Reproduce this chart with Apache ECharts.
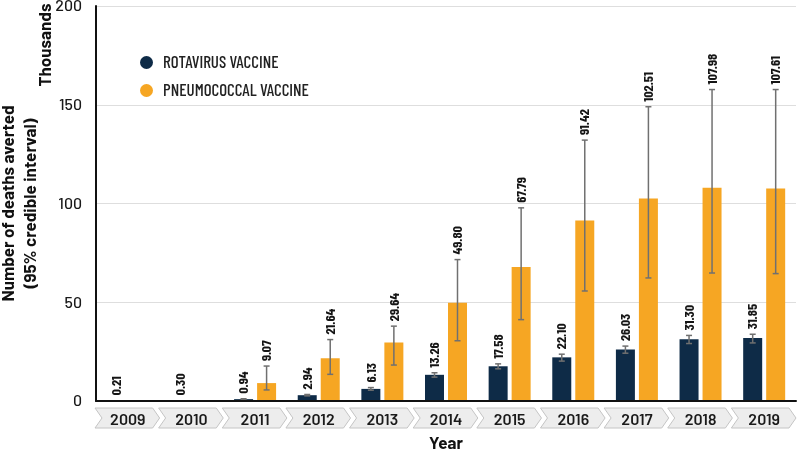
<!DOCTYPE html>
<html>
<head>
<meta charset="utf-8">
<script src="https://cdn.jsdelivr.net/npm/echarts@6/dist/echarts.min.js"></script>
<style>
  html, body { margin: 0; padding: 0; background: #fff; }
  #chart { width: 800px; height: 451px; }
</style>
</head>
<body>
<div id="chart"></div>
<script>
// years on the x axis
var years = ['2009', '2010', '2011', '2012', '2013', '2014', '2015', '2016', '2017', '2018', '2019'];
// deaths averted, thousands
var rotaVals = [0.21, 0.30, 0.94, 2.94, 6.13, 13.26, 17.58, 22.10, 26.03, 31.30, 31.85];
var rotaLow = [null, null, 0.75, 2.6, 5.5, 12.1, 16.3, 20.2, 24.2, 29.1, 29.4];
var rotaHigh = [null, null, 1.15, 3.3, 6.8, 14.3, 18.8, 23.7, 27.8, 33.2, 33.8];
var pneuVals = [null, null, 9.07, 21.64, 29.64, 49.80, 67.79, 91.42, 102.51, 107.98, 107.61];
var pneuLow = [null, null, 5.6, 13.5, 18.2, 30.5, 41.2, 55.7, 62.3, 64.8, 64.5];
var pneuHigh = [null, null, 17.7, 31.1, 37.9, 71.6, 97.8, 132.1, 149.0, 157.7, 157.7];
var yTicks = [0, 50, 100, 150, 200];

var FONT = "Barlow, sans-serif";
var FONT_C = "'Barlow Condensed', Barlow, sans-serif";
var NAVY = '#0e2b47';
var ORANGE = '#f6a623';
var BAR_W = 19;
var GAP = 4;

function errData(vals, lo, hi) {
    var out = [];
    for (var i = 0; i < vals.length; i++) {
        if (vals[i] == null) continue;
        out.push([i, lo[i], hi[i], vals[i]]);
    }
    return out;
}

// error bar + rotated value label, shifted to sit on its bar
function errRender(offset) {
    return function (params, api) {
        var i = api.value(0);
        var lo = api.value(1), hi = api.value(2), v = api.value(3);
        var top = api.coord([i, isNaN(hi) ? v : hi]);
        var x = top[0] + offset;
        var children = [];
        if (!isNaN(lo) && !isNaN(hi)) {
            var bot = api.coord([i, lo]);
            var st = { stroke: '#707070', lineWidth: 1.5 };
            children.push({ type: 'line', shape: { x1: x, y1: top[1], x2: x, y2: bot[1] }, style: st });
            children.push({ type: 'line', shape: { x1: x - 3, y1: top[1], x2: x + 3, y2: top[1] }, style: st });
            children.push({ type: 'line', shape: { x1: x - 3, y1: bot[1], x2: x + 3, y2: bot[1] }, style: st });
        }
        children.push({
            type: 'text',
            x: x, y: top[1] - 5,
            rotation: Math.PI / 2,
            style: {
                text: v.toFixed(2),
                fontFamily: FONT_C, fontSize: 14, fontWeight: 'bold',
                fill: '#151515', align: 'left', verticalAlign: 'middle'
            }
        });
        return { type: 'group', children: children };
    };
}

// chevron boxes under each year label
function chevronRender(params, api) {
    var i = api.value(0);
    var c = api.coord([i, 0]);
    var w = api.size([1, 0])[0];
    var l = c[0] - w / 2 - 1, r = c[0] + w / 2;
    var t = c[1] + 7, b = c[1] + 27, m = (t + b) / 2;
    return {
        type: 'polygon',
        shape: { points: [[l, t], [r - 7, t], [r, m], [r - 7, b], [l, b], [l + 7, m]] },
        style: { fill: '#ededed', stroke: '#c4c4c4', lineWidth: 1 }
    };
}

var chart = echarts.init(document.getElementById('chart'));
chart.setOption({
    animation: false,
    textStyle: { fontFamily: FONT },
    grid: { left: 96, right: 4, top: 6, bottom: 50, outerBoundsMode: 'none', containLabel: false },
    legend: {
        data: ['ROTAVIRUS VACCINE', 'PNEUMOCOCCAL VACCINE'],
        orient: 'vertical',
        left: 140, top: 54,
        padding: 0,
        icon: 'circle',
        itemWidth: 13, itemHeight: 13,
        itemGap: 11,
        textStyle: { fontFamily: FONT_C, fontSize: 17, fontWeight: 500, color: '#222', padding: [0, 0, 0, 5] }
    },
    xAxis: {
        type: 'category',
        data: years,
        z: 5,
        name: 'Year',
        nameLocation: 'middle',
        nameGap: 34,
        nameTextStyle: { fontFamily: FONT, fontSize: 17, fontWeight: 'bold', color: '#111' },
        axisLine: { lineStyle: { color: '#111', width: 2 } },
        axisTick: { show: false },
        axisLabel: { margin: 11, fontFamily: FONT, fontSize: 16, fontWeight: 600, color: '#1a1a1a' }
    },
    yAxis: {
        type: 'value',
        min: yTicks[0], max: yTicks[yTicks.length - 1], interval: 50,
        axisLine: { show: true, lineStyle: { color: '#111', width: 2 } },
        axisTick: { show: false },
        axisLabel: { margin: 14, fontFamily: FONT, fontSize: 16, fontWeight: 500, color: '#1a1a1a' },
        splitLine: { lineStyle: { color: '#dedede', width: 1 } }
    },
    graphic: [
        {
            type: 'text', x: 45, y: 45, rotation: Math.PI / 2,
            style: {
                text: 'Thousands', fontFamily: FONT, fontSize: 17, fontWeight: 'bold', fill: '#111',
                align: 'center', verticalAlign: 'middle'
            }
        },
        {
            type: 'text', x: 19, y: 203.5, rotation: Math.PI / 2,
            style: {
                text: 'Number of deaths averted\n(95% credible interval)',
                fontFamily: FONT, fontSize: 17, fontWeight: 'bold', fill: '#111',
                align: 'center', verticalAlign: 'middle', lineHeight: 22
            }
        }
    ],
    series: [
        {
            name: 'chevrons', type: 'custom', z: 1, clip: false, silent: true,
            renderItem: chevronRender,
            data: years.map(function (y, i) { return [i]; })
        },
        {
            name: 'ROTAVIRUS VACCINE', type: 'bar', data: rotaVals,
            barWidth: BAR_W, barGap: (GAP / BAR_W * 100) + '%',
            itemStyle: { color: NAVY }
        },
        {
            name: 'PNEUMOCOCCAL VACCINE', type: 'bar', data: pneuVals,
            barWidth: BAR_W,
            itemStyle: { color: ORANGE }
        },
        {
            name: 'rotaErr', type: 'custom', z: 4, clip: false,
            renderItem: errRender(-(BAR_W + GAP) / 2),
            data: errData(rotaVals, rotaLow, rotaHigh)
        },
        {
            name: 'pneuErr', type: 'custom', z: 4, clip: false,
            renderItem: errRender((BAR_W + GAP) / 2),
            data: errData(pneuVals, pneuLow, pneuHigh)
        }
    ]
});
</script>
</body>
</html>
